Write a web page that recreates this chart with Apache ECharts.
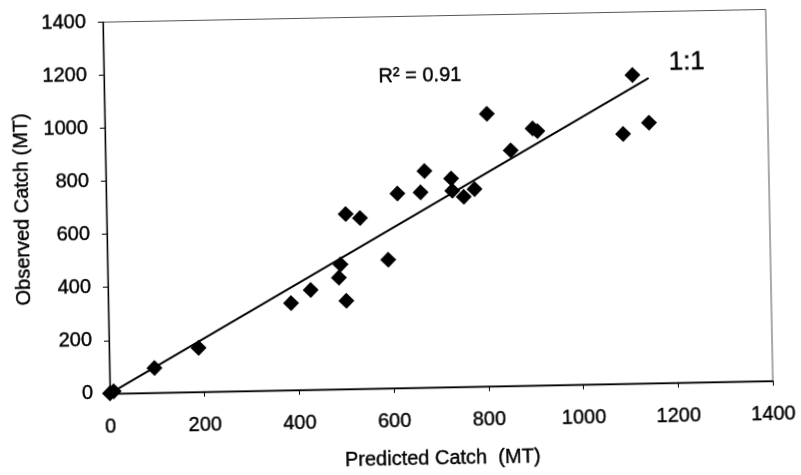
<!DOCTYPE html>
<html>
<head>
<meta charset="utf-8">
<script src="https://cdn.jsdelivr.net/npm/echarts@6/dist/echarts.min.js"></script>
<style>
html, body { margin: 0; padding: 0; background: #fff; overflow: hidden; }
#chart { width: 801px; height: 475px; transform: rotate(-1.1deg); transform-origin: 50% 50%; }
</style>
</head>
<body>
<div id="chart"></div>
<script>
// Predicted vs observed catch (MT)
const predicted = [0, 8, 95, 189, 386, 428, 488, 492, 503, 505, 535, 593, 615, 664, 673, 729, 731, 755, 778, 807, 856, 903, 913, 1094, 1116, 1149];
const observed  = [0, 8, 93, 165, 327, 375, 420, 470, 332, 659, 643, 484, 733, 735, 816, 785, 739, 716, 744, 1027, 887, 968, 958, 941, 1162, 981];
// 1:1 reference line
const lineX = [0, 1150];
const lineY = [0, 1150];
// axis ticks
const xTicks = [0, 200, 400, 600, 800, 1000, 1200, 1400];
const yTicks = [0, 200, 400, 600, 800, 1000, 1200, 1400];
const r2Label = 'R\u00B2 = 0.91';
const oneToOneLabel = '1:1';

const FONT = '"Liberation Sans", Arial, sans-serif';
const chart = echarts.init(document.getElementById('chart'), null, { renderer: 'canvas' });

const scatterData = predicted.map((p, i) => [p, observed[i]]);
const lineData = lineX.map((x, i) => [x, lineY[i]]);

const txt = { fontFamily: FONT, fontSize: 20, color: '#000', textBorderColor: '#000', textBorderWidth: 0.4 };

const axisCommon = {
  type: 'value',
  splitLine: { show: false },
  axisLine: { show: true, onZero: false, lineStyle: { color: '#000', width: 1.3 } },
  axisTick: { show: true, inside: false, length: 5, lineStyle: { color: '#000', width: 1 } },
  nameLocation: 'middle',
  nameTextStyle: Object.assign({}, txt)
};

chart.setOption({
  animation: false,
  backgroundColor: '#fff',
  grid: { left: 107, top: 16.5, width: 663, height: 375, show: true, borderColor: '#555', borderWidth: 1, backgroundColor: 'transparent' },
  xAxis: Object.assign({}, axisCommon, {
    min: xTicks[0], max: xTicks[xTicks.length - 1], interval: xTicks[1] - xTicks[0],
    name: 'Predicted Catch  (MT)', nameGap: 62,
    axisLabel: Object.assign({}, txt, { margin: 24, formatter: v => String(v) })
  }),
  yAxis: Object.assign({}, axisCommon, {
    min: yTicks[0], max: yTicks[yTicks.length - 1], interval: yTicks[1] - yTicks[0],
    name: 'Observed Catch (MT)', nameGap: 74,
    axisLabel: Object.assign({}, txt, { margin: 17, formatter: v => String(v) })
  }),
  series: [
    {
      type: 'line',
      data: lineData,
      symbol: 'none',
      lineStyle: { color: '#000', width: 2 },
      z: 2
    },
    {
      type: 'scatter',
      data: scatterData,
      symbol: 'diamond',
      symbolSize: 16,
      itemStyle: { color: '#000', opacity: 1 },
      z: 3
    }
  ],
  graphic: [
    {
      type: 'text', x: 423, y: 76,
      style: { text: r2Label, fontFamily: FONT, fontSize: 20, fill: '#000', stroke: '#000', lineWidth: 0.4, textAlign: 'center', textVerticalAlign: 'middle' }
    },
    {
      type: 'text', x: 690, y: 68,
      style: { text: oneToOneLabel, fontFamily: FONT, fontSize: 26, fill: '#000', stroke: '#000', lineWidth: 0.4, textAlign: 'center', textVerticalAlign: 'middle' }
    }
  ]
});
</script>
</body>
</html>
